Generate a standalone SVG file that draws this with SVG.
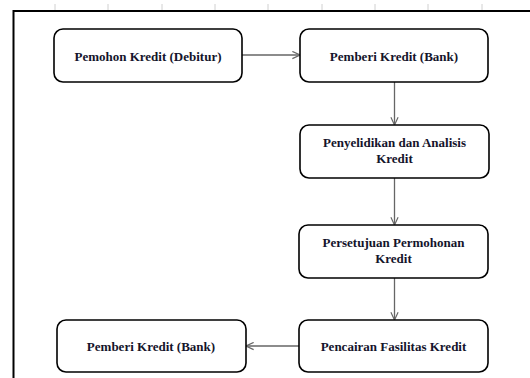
<svg xmlns="http://www.w3.org/2000/svg" width="530" height="378" viewBox="0 0 530 378">
<defs>
<style>
.box{fill:#fff;stroke:#000;stroke-width:1.6}
.t{font-family:"Liberation Serif","Times New Roman",serif;font-weight:bold;font-size:13px;fill:#14142b;text-anchor:middle}
.c{stroke:#666;stroke-width:1.3;fill:none}
.tick{stroke:#d0d0d0;stroke-width:1}
</style>
<marker id="ah" viewBox="0 0 10 10" refX="9.5" refY="5" markerWidth="9" markerHeight="9" markerUnits="userSpaceOnUse" orient="auto">
<path d="M1,1 L9.5,5 L1,9" fill="none" stroke="#666" stroke-width="1.3"/>
</marker>
</defs>
<rect width="530" height="378" fill="#fff"/>
<g id="frame">
<g class="tick">
<line x1="55" y1="4" x2="55" y2="10"/><line x1="108" y1="4" x2="108" y2="10"/><line x1="162" y1="4" x2="162" y2="10"/><line x1="215" y1="4" x2="215" y2="10"/><line x1="268" y1="4" x2="268" y2="10"/><line x1="322" y1="4" x2="322" y2="10"/><line x1="375" y1="4" x2="375" y2="10"/><line x1="428" y1="4" x2="428" y2="10"/><line x1="482" y1="4" x2="482" y2="10"/>
</g>
<path d="M13.5,378 V11 H530" fill="none" stroke="#000" stroke-width="2"/>
</g>
<g id="connectors">
<line class="c" x1="242" y1="55" x2="300" y2="55" marker-end="url(#ah)"/>
<line class="c" x1="394.5" y1="82" x2="394.5" y2="125" marker-end="url(#ah)"/>
<line class="c" x1="394.5" y1="178" x2="394.5" y2="225" marker-end="url(#ah)"/>
<line class="c" x1="394.5" y1="278" x2="394.5" y2="320" marker-end="url(#ah)"/>
<line class="c" x1="299" y1="346" x2="246" y2="346" marker-end="url(#ah)"/>
</g>
<g id="n1"><rect class="box" x="54" y="29" width="188" height="53" rx="9"/><text class="t" x="148" y="60.5">Pemohon Kredit (Debitur)</text></g>
<g id="n2"><rect class="box" x="300" y="29" width="188" height="53" rx="9"/><text class="t" x="394" y="60.5">Pemberi Kredit (Bank)</text></g>
<g id="n3"><rect class="box" x="300" y="125" width="189" height="53" rx="9"/><text class="t" x="394.5" y="147">Penyelidikan dan Analisis</text><text class="t" x="394.5" y="163">Kredit</text></g>
<g id="n4"><rect class="box" x="299" y="225" width="189" height="53" rx="9"/><text class="t" x="393.5" y="247">Persetujuan Permohonan</text><text class="t" x="393.5" y="263">Kredit</text></g>
<g id="n5"><rect class="box" x="299" y="320" width="189" height="52" rx="9"/><text class="t" x="393.5" y="351">Pencairan Fasilitas Kredit</text></g>
<g id="n6"><rect class="box" x="57" y="320" width="189" height="52" rx="9"/><text class="t" x="151" y="351">Pemberi Kredit (Bank)</text></g>
</svg>
